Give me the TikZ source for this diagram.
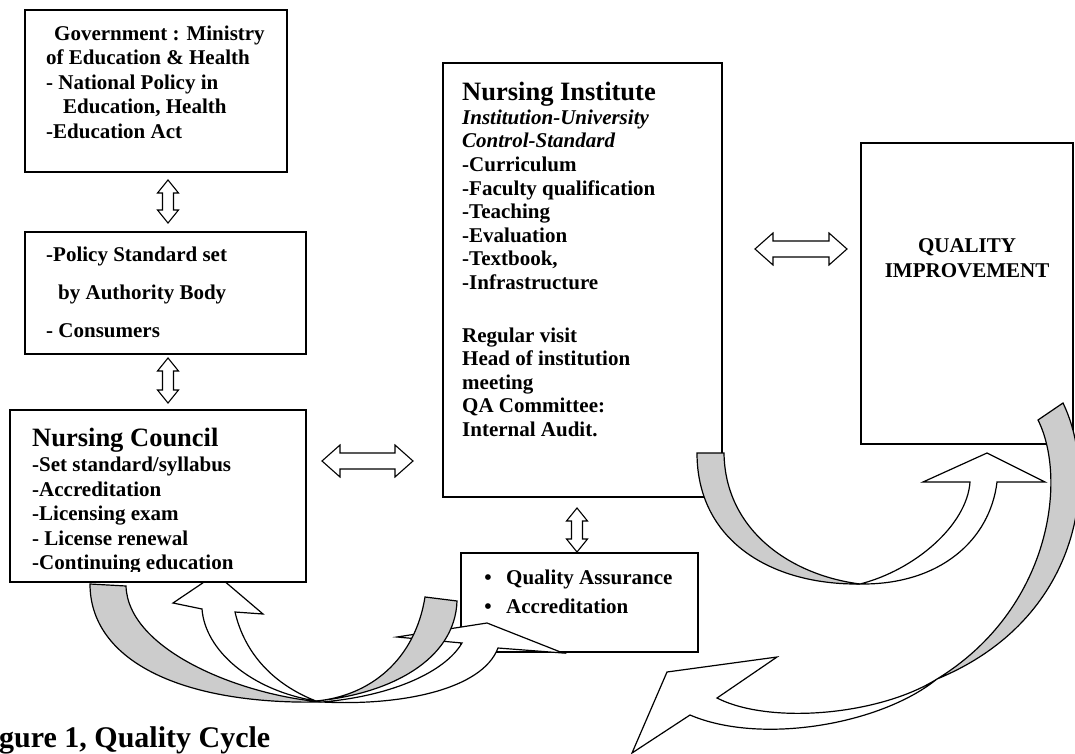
\documentclass[tikz,border=0pt]{standalone}
\usepackage{fontspec}
\setmainfont{Liberation Serif}
\usetikzlibrary{calc}
\usetikzlibrary{fit}
\definecolor{bandgrey}{RGB}{204,204,204}

% hollow double arrows, drawn between two points
\newcommand{\vdblarrow}[2]{%
  \draw[blockarrow] let \p1=(#1), \p2=(#2) in
    (\x1,\y1) -- ++(10.5pt,-13pt) -- ++(-5pt,0pt) -- (\x2+5.5pt,\y2+13pt) -- ++(5pt,0pt)
    -- (\x2,\y2) -- ++(-10.5pt,13pt) -- ++(5pt,0pt) -- (\x1-5.5pt,\y1-13pt) -- ++(-5pt,0pt) -- cycle;}
\newcommand{\hdblarrow}[2]{%
  \draw[blockarrow] let \p1=(#1), \p2=(#2) in
    (\x1,\y1) -- ++(18pt,16pt) -- ++(0pt,-8pt) -- (\x2-18pt,\y2+8pt) -- ++(0pt,8pt)
    -- (\x2,\y2) -- ++(-18pt,-16pt) -- ++(0pt,8pt) -- (\x1+18pt,\y1-8pt) -- ++(0pt,-8pt) -- cycle;}

\begin{document}
\begin{tikzpicture}[x=1pt, y=-1pt,
    box/.style={draw, line width=1.5pt, fill=white, inner sep=0pt, outer sep=0pt},
    txt/.style={anchor=base west, inner sep=0pt, font=\fontsize{21}{24}\selectfont\bfseries},
    headtxt/.style={anchor=base west, inner sep=0pt, font=\fontsize{26.5}{30}\selectfont\bfseries},
    blockarrow/.style={draw, fill=white, line width=1.1pt, line join=miter},
    backband/.style={draw, fill=bandgrey, line width=1.2pt},
    frontband/.style={draw, fill=white, line width=1.2pt, line join=miter}]

  \useasboundingbox (0,0) rectangle (1075,754);
  \clip (0,0) rectangle (1075,754);

  % Government
  \node[box, fit={(25,10) (287,172)}] (gov) {};
    \node[txt] (gov1) at (54,40.5) {Government : Ministry};
    \node[txt] (gov2) at (46,65) {of Education \& Health};
    \node[txt] (gov3) at (46,89.5) {- National Policy in};
    \node[txt] (gov4) at (63,114) {Education, Health};
    \node[txt] (gov5) at (46,138.5) {-Education Act};

  % Policy standard
  \node[box, fit={(25,232) (306,354)}] (policy) {};
    \node[txt] (pol1) at (46,261) {-Policy Standard set};
    \node[txt] (pol2) at (58,299) {by Authority Body};
    \node[txt] (pol3) at (46,337) {- Consumers};

  % Nursing institute
  \node[box, fit={(443,63) (722,497)}] (institute) {};
    \node[headtxt] (inst0) at (462,100.5) {Nursing Institute};
    \node[txt, font=\fontsize{21}{24}\selectfont\bfseries\itshape] (insta) at (462,124.5) {Institution-University};
    \node[txt, font=\fontsize{21}{24}\selectfont\bfseries\itshape] (instb) at (462,148) {Control-Standard};
    \foreach \line [count=\i] in {-Curriculum, -Faculty qualification, -Teaching, -Evaluation, {-Textbook,}, -Infrastructure}
      \node[txt] (inst\i) at (462,{171.5+23.5*(\i-1)}) {\line};
    \foreach \line [count=\i] in {Regular visit, Head of institution, meeting, QA Committee:, Internal Audit.}
      \node[txt] (visit\i) at (462,{342+23.5*(\i-1)}) {\line};

  % Quality improvement
  \node[box, fit={(861,143) (1073,444)}] (quality) {};
    \node[txt, anchor=base] (qi1) at (967,252.5) {QUALITY};
    \node[txt, anchor=base] (qi2) at (967,277.5) {IMPROVEMENT};

  % Quality assurance
  \node[box, fit={(461,553) (698,652)}] (qa) {};
    \node[txt, anchor=base] (qab1) at (488,584) {\textbullet};
    \node[txt] (qa1) at (506,584) {Quality Assurance};
    \node[txt, anchor=base] (qab2) at (488,613) {\textbullet};
    \node[txt] (qa2) at (506,613) {Accreditation};

  % double arrows
  \vdblarrow{$(gov.south)+(12,8)$}{$(policy.north)+(2.5,-9)$}
  \vdblarrow{$(institute.south)+(-5.5,11)$}{$(qa.north)+(-2.5,-1)$}
  \hdblarrow{$(institute.east)+(33,-31)$}{$(quality.west)+(-14,-44.5)$}

  % curved arrow: council -> quality assurance
  \draw[backband] (90,584) .. controls (90,660) and (180,705) .. (322,702)
    .. controls (240,695) and (128,650) .. (126,586) -- cycle;
  \draw[frontband] (322,702) .. controls (400,706) and (482,690) .. (498,648)
    -- (563,653) -- (487,623) -- (397,637) -- (462,643)
    .. controls (445,672) and (392,696) .. (322,702) -- cycle;

  % curved arrow: quality assurance -> council
  \draw[backband] (425,597) .. controls (415,660) and (370,696) .. (316,701)
    .. controls (390,694) and (455,660) .. (457,601) -- cycle;
  \draw[frontband] (316,701) .. controls (250,690) and (205,650) .. (202,609)
    -- (173,603) -- (216,574) -- (263,614) -- (235,612)
    .. controls (245,655) and (275,685) .. (316,701) -- cycle;

  % Nursing council
  \node[box, fit={(10,410) (306,582)}] (council) {};
    \node[headtxt] (coun0) at (32,446) {Nursing Council};
    \foreach \line [count=\i] in {-Set standard/syllabus, -Accreditation, -Licensing exam, - License renewal}
      \node[txt] (coun\i) at (32,{471.5+24.5*(\i-1)}) {\line};
    \begin{scope}
      \clip (10,410) rectangle (306,571);
      \node[txt] (coun5) at (32,569.5) {-Continuing education};
    \end{scope}

  \vdblarrow{$(policy.south)+(2.5,4)$}{$(council.north)+(10,-7)$}
  \hdblarrow{$(council.east)+(16,-35)$}{$(institute.west)+(-30,181)$}

  % curved arrow: institute -> quality improvement
  \draw[backband] (697,453) .. controls (697,540) and (770,585) .. (860,584)
    .. controls (790,575) and (725,530) .. (724,453) -- cycle;
  \draw[frontband] (860,584) .. controls (940,585) and (990,540) .. (997,482)
    -- (1045,482) -- (987,453) -- (923,482) -- (970,482)
    .. controls (967,525) and (915,570) .. (860,584) -- cycle;

  % curved arrow: quality improvement -> back
  \draw[backband] (1038,420) -- (1063,403) .. controls (1100,480) and (1080,620) .. (937,679)
    .. controls (1050,610) and (1068,480) .. (1038,420) -- cycle;
  \draw[frontband] (937,679) .. controls (880,725) and (760,745) .. (690,715)
    -- (632,753) -- (667,672) -- (777,657) -- (717,698)
    .. controls (770,725) and (880,715) .. (937,679) -- cycle;

  % caption
  \node[anchor=base west, inner sep=0pt, font=\fontsize{30}{32}\selectfont\bfseries] (caption) at (-1,747) {gure 1, Quality Cycle};

\end{tikzpicture}
\end{document}
